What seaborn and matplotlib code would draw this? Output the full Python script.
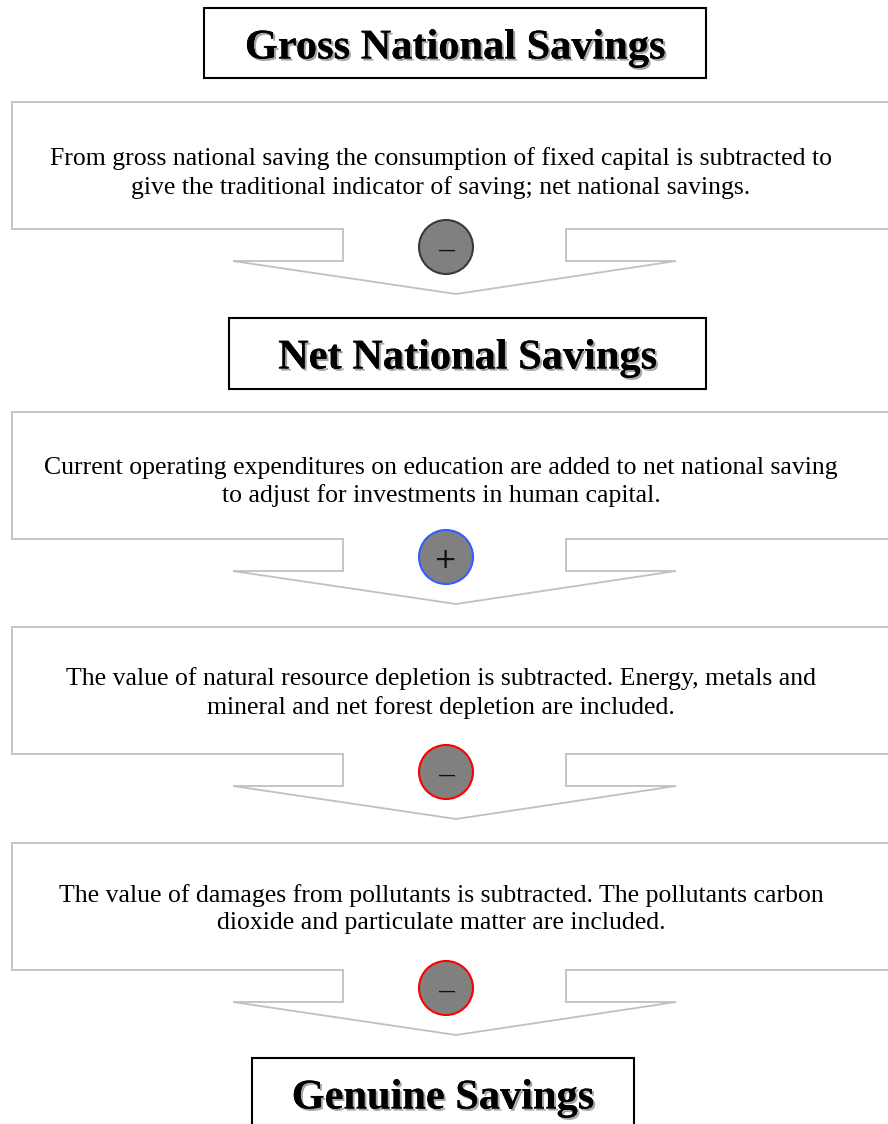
import matplotlib
matplotlib.use("Agg")
import matplotlib.pyplot as plt
import matplotlib.patches as mpatches
import matplotlib.patheffects as pe
import seaborn as sns

# =====================================================
# DATA
# =====================================================

headings = [
    "Gross National Savings",
    "Net National Savings",
    "Genuine Savings",
]

steps = [
    "From gross national saving the consumption of fixed capital is subtracted to\n"
    "give the traditional indicator of saving; net national savings.",
    "Current operating expenditures on education are added to net national saving\n"
    "to adjust for investments in human capital.",
    "The value of natural resource depletion is subtracted. Energy, metals and\n"
    "mineral and net forest depletion are included.",
    "The value of damages from pollutants is subtracted. The pollutants carbon\n"
    "dioxide and particulate matter are included.",
]

signs = ["\u2014", "+", "\u2014", "\u2014"]
sign_edges = ["#3a3a3a", "#3060ff", "#ff0000", "#ff0000"]

# =====================================================
# LAYOUT (pixel coordinates, y downwards)
# =====================================================

heading_boxes = [
    (204, 8, 706, 78),
    (229, 318, 706, 389),
    (252, 1058, 634, 1130),
]
step_tops = [102, 412, 627, 843]
text_offsets = [71, 70, 66, 66]

sns.set_theme(style="white")
plt.rcParams["font.family"] = ["Liberation Serif", "DejaVu Serif"]

fig = plt.figure(figsize=(8.88, 11.24), dpi=100)
ax = fig.add_axes([0, 0, 1, 1])
ax.set_xlim(0, 888)
ax.set_ylim(1124, 0)
ax.axis("off")

grey = "#c0c0c0"

# =====================================================
# HEADING BOXES
# =====================================================

for (x0, y0, x1, y1), label in zip(heading_boxes, headings):
    ax.add_patch(mpatches.Rectangle((x0, y0), x1 - x0, y1 - y0,
                                    facecolor="white", edgecolor="black",
                                    linewidth=1.5))
    ax.text((x0 + x1) / 2, y0 + 36, label, ha="center",
            va="center_baseline", fontsize=30.5, fontweight="bold",
            color="black",
            path_effects=[pe.withSimplePatchShadow(offset=(1.5, -1.5),
                                                   shadow_rgbFace="#909090",
                                                   alpha=0.8),
                          pe.Normal()])

# =====================================================
# CALLOUT STEPS
# =====================================================

for top, off, text, sign, edge in zip(step_tops, text_offsets, steps,
                                      signs, sign_edges):
    bot = top + 127
    notch = bot + 32
    apex = bot + 65
    xs = [892, 12, 12, 343, 343, 233, 456, 676, 566, 566, 892]
    ys = [top, top, bot, bot, notch, notch, apex, notch, notch, bot, bot]
    ax.fill(xs, ys, facecolor="white", edgecolor="none")
    ax.plot(xs, ys, color=grey, linewidth=1.3, solid_joinstyle="miter")

    ax.text(441, top + off, text, ha="center", va="center", fontsize=18.5,
            linespacing=1.33, color="black")

    cy = bot + 18
    ax.add_patch(mpatches.Ellipse((446, cy), 54, 54, facecolor="#808080",
                                  edgecolor=edge, linewidth=1.5, zorder=5))
    ax.text(446, cy + 3, sign, ha="center", va="center",
            fontsize=20 if sign == "+" else 13,
            color="#111111", zorder=6, family=["DejaVu Sans"])

fig.savefig("out.png", dpi=100)
